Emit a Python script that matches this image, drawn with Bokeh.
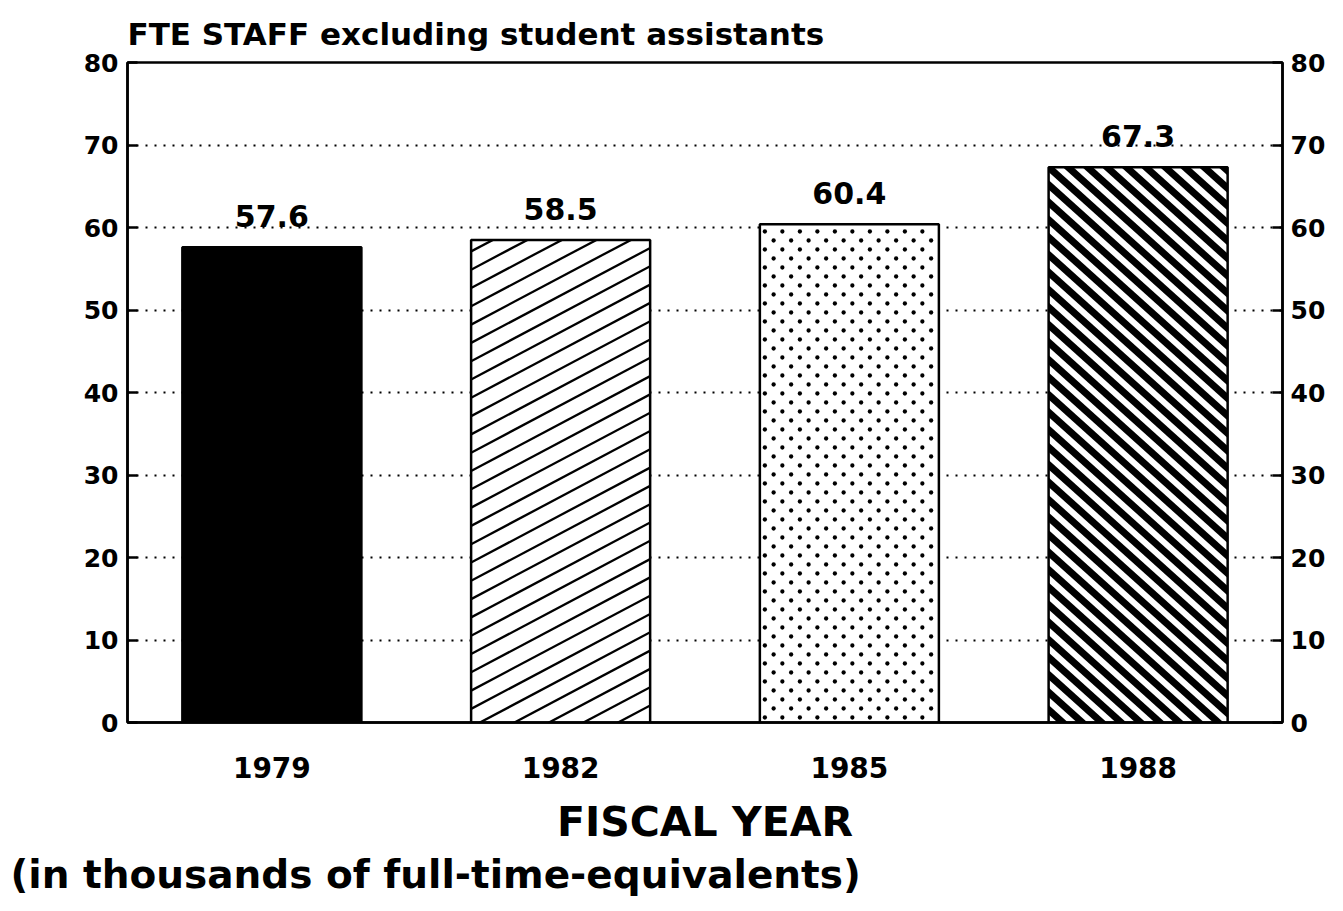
import math
from bokeh.plotting import figure
from bokeh.models import (ColumnDataSource, FactorRange, Range1d, LinearAxis, FixedTicker,
                          LabelSet, Title)
from bokeh.core.properties import value
from bokeh.embed import file_html
from bokeh.resources import INLINE

# ---- data ----
years = ["1979", "1982", "1985", "1988"]
fte_values = [57.6, 58.5, 60.4, 67.3]
value_labels = ["57.6", "58.5", "60.4", "67.3"]
y_ticks = [0, 10, 20, 30, 40, 50, 60, 70, 80]

# ---- styles ----
fills = ["black", "white", "white", "white"]
patterns = ["solid", "thin_up", "dots", "thick_down"]
FONT = "DejaVu Sans"
BAR_W = 0.62
Y_MAX = 80
FRAME_W, FRAME_H = 1155, 660
SX = FRAME_W / len(years)   # px per category unit
SY = FRAME_H / Y_MAX        # px per value unit


def clip(poly, xmin, xmax, ymin, ymax):
    def clip_edge(pts, inside, inter):
        out = []
        n = len(pts)
        for i in range(n):
            cur, prev = pts[i], pts[i - 1]
            if inside(cur):
                if not inside(prev):
                    out.append(inter(prev, cur))
                out.append(cur)
            elif inside(prev):
                out.append(inter(prev, cur))
        return out

    def ix(x0):
        return lambda a, b: (x0, a[1] + (b[1] - a[1]) * (x0 - a[0]) / (b[0] - a[0]))

    def iy(y0):
        return lambda a, b: (a[0] + (b[0] - a[0]) * (y0 - a[1]) / (b[1] - a[1]), y0)

    pts = poly
    for inside, inter in [(lambda p: p[0] >= xmin, ix(xmin)), (lambda p: p[0] <= xmax, ix(xmax)),
                          (lambda p: p[1] >= ymin, iy(ymin)), (lambda p: p[1] <= ymax, iy(ymax))]:
        if not pts:
            break
        pts = clip_edge(pts, inside, inter)
    return pts


def stripes(xc, top, slope, vperiod, thick):
    """Hatch bands inside a bar, built in pixel space then mapped to data units."""
    W, H = BAR_W * SX, top * SY
    tv = thick * math.sqrt(1 + slope * slope)
    cmin = min(0.0, -slope * W) - tv
    cmax = max(H, H - slope * W)
    xs, ys = [], []
    c = cmin
    while c < cmax:
        quad = [(-1, slope * -1 + c), (W + 1, slope * (W + 1) + c),
                (W + 1, slope * (W + 1) + c + tv), (-1, slope * -1 + c + tv)]
        poly = clip(quad, 0, W, 0, H)
        if len(poly) >= 3:
            xs.append([xc - BAR_W / 2 + px / SX for px, _ in poly])
            ys.append([py / SY for _, py in poly])
        c += vperiod
    return xs, ys


def dots(xc, top, hstep, vstep, margin):
    W, H = BAR_W * SX, top * SY
    xs, ys = [], []
    row = 0
    py = margin
    while py < H - margin:
        px = margin + (hstep / 2 if row % 2 else 0)
        while px < W - margin:
            xs.append(xc - BAR_W / 2 + px / SX)
            ys.append(py / SY)
            px += hstep
        py += vstep
        row += 1
    return xs, ys


src = ColumnDataSource(dict(x=years, top=fte_values, lab=value_labels, fill=fills))

p = figure(x_range=FactorRange(*years, range_padding=0), y_range=Range1d(0, Y_MAX),
           width=1338, height=905, output_backend="svg", toolbar_location=None,
           min_border_left=127, min_border_right=56, min_border_top=62, min_border_bottom=183)

# bar fills
p.vbar(x="x", top="top", bottom=0, width=BAR_W, source=src, fill_color="fill", line_color=None)

# hatching derived from each bar's value
hx, hy, dx, dy = [], [], [], []
for i, (v, pat) in enumerate(zip(fte_values, patterns)):
    xc = i + 0.5
    if pat == "thin_up":
        a, b = stripes(xc, v, 0.53, 18.3, 2.3)
        hx += a; hy += b
    elif pat == "thick_down":
        a, b = stripes(xc, v, -0.9, 17.5, 7.0)
        hx += a; hy += b
    elif pat == "dots":
        a, b = dots(xc, v, 17.5, 9.0, 5.0)
        dx += a; dy += b
p.patches(xs=hx, ys=hy, fill_color="black", line_color=None)
p.scatter(x=dx, y=dy, size=4.3, marker="circle", fill_color="black", line_color=None)

# bar outlines on top
p.vbar(x="x", top="top", bottom=0, width=BAR_W, source=src, fill_color=None,
       line_color="black", line_width=2.5)

p.add_layout(LabelSet(x="x", y="top", text="lab", source=src, text_align="center",
                      text_baseline="bottom", y_offset=20, text_font=value(FONT),
                      text_font_style="bold", text_font_size="30px", text_color="black"))

# grid
p.xgrid.visible = False
p.ygrid.ticker = FixedTicker(ticks=[10, 20, 30, 40, 50, 60, 70])
p.ygrid.grid_line_color = "black"
p.ygrid.grid_line_dash = "2 7"
p.ygrid.grid_line_width = 2

p.outline_line_color = "black"
p.outline_line_width = 2.5

# left axis
ya = p.yaxis[0]
ya.ticker = FixedTicker(ticks=y_ticks)
ya.major_tick_in = 10
ya.major_tick_out = 0
ya.minor_tick_line_color = None
ya.major_tick_line_width = 2.5
ya.axis_line_width = 2.5
ya.major_label_standoff = 9
ya.major_label_text_font = FONT
ya.major_label_text_font_style = "bold"
ya.major_label_text_font_size = "25px"
ya.major_label_text_color = "black"

# right axis
ra = LinearAxis(ticker=FixedTicker(ticks=y_ticks))
ra.major_tick_in = 10
ra.major_tick_out = 0
ra.minor_tick_line_color = None
ra.major_tick_line_width = 2.5
ra.axis_line_width = 2.5
ra.major_label_standoff = 8
ra.major_label_text_font = FONT
ra.major_label_text_font_style = "bold"
ra.major_label_text_font_size = "25px"
ra.major_label_text_color = "black"
p.add_layout(ra, "right")

# x axis
xa = p.xaxis[0]
xa.major_tick_line_color = None
xa.minor_tick_line_color = None
xa.axis_line_width = 2.5
xa.major_label_standoff = 28
xa.major_label_text_font = FONT
xa.major_label_text_font_style = "bold"
xa.major_label_text_font_size = "28px"
xa.major_label_text_color = "black"
xa.axis_label = "FISCAL YEAR"
xa.axis_label_standoff = 17
xa.axis_label_text_font = FONT
xa.axis_label_text_font_style = "bold"
xa.axis_label_text_font_size = "41px"
xa.axis_label_text_color = "black"

# titles
p.add_layout(Title(text="FTE STAFF excluding student assistants", align="left", offset=0,
                   standoff=22, text_font=FONT, text_font_style="bold", text_font_size="31px",
                   text_color="black"), "above")
p.add_layout(Title(text="(in thousands of full-time-equivalents)", align="left", offset=-117,
                   standoff=2, text_font=FONT, text_font_style="bold", text_font_size="39px",
                   text_color="black"), "below")

open("out.html", "w").write(file_html(p, INLINE))
